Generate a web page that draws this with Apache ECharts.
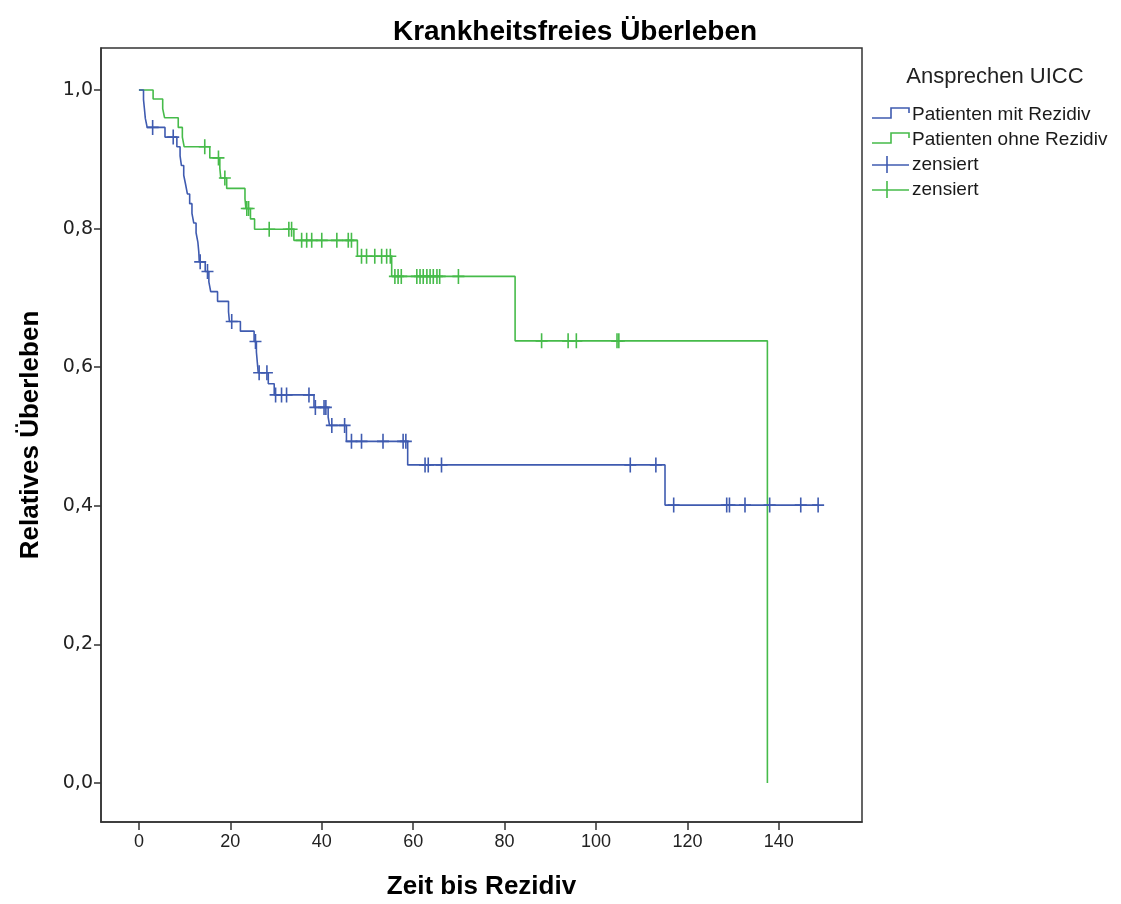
<!DOCTYPE html>
<html>
<head>
<meta charset="utf-8">
<script src="https://cdn.jsdelivr.net/npm/echarts@6/dist/echarts.min.js"></script>
<style>
html,body{margin:0;padding:0;background:#fff;}
#chart{width:1121px;height:904px;}
</style>
</head>
<body>
<div id="chart"></div>
<script>
// ---------- data ----------
const chartTitle = 'Krankheitsfreies Überleben';
const xAxisTitle = 'Zeit bis Rezidiv';
const yAxisTitle = 'Relatives Überleben';
const legendTitle = 'Ansprechen UICC';
const seriesNames = ['Patienten mit Rezidiv', 'Patienten ohne Rezidiv'];
const censorName = 'zensiert';

const xTicks = [0, 20, 40, 60, 80, 100, 120, 140];
const yTicks = [0, 0.2, 0.4, 0.6, 0.8, 1.0];

// Patienten mit Rezidiv (blue): event times and survival after each event
const blueTimes = [0, 1.0, 1.2, 1.4, 1.8, 5.7, 8.3, 9.0, 9.3, 9.8, 10.2, 10.6, 11.1, 11.6, 12.0, 12.5, 12.9, 13.1, 13.2, 14.5, 15.3, 15.7, 17.2, 19.6, 19.8, 22.2, 25.2, 25.7, 25.9, 26.1, 28.3, 29.6, 38.3, 41.4, 41.7, 45.4, 58.8, 115.1, 148.6];
const blueSurv  = [1.0, 0.986, 0.973, 0.959, 0.946, 0.932, 0.918, 0.905, 0.891, 0.877, 0.864, 0.850, 0.836, 0.822, 0.808, 0.794, 0.780, 0.766, 0.752, 0.738, 0.723, 0.709, 0.695, 0.680, 0.666, 0.652, 0.637, 0.622, 0.607, 0.592, 0.576, 0.560, 0.542, 0.528, 0.516, 0.493, 0.459, 0.401, 0.401];
const blueCensor = [3.0, 7.5, 13.4, 15.0, 20.3, 25.5, 26.3, 28.0, 29.9, 31.2, 32.3, 37.2, 38.6, 40.5, 40.9, 42.2, 45.0, 46.5, 48.7, 53.4, 57.8, 58.4, 62.6, 63.3, 66.2, 107.5, 113.1, 117.0, 128.6, 129.2, 132.6, 138.0, 144.8, 148.6];

// Patienten ohne Rezidiv (green)
const greenTimes = [0, 3.1, 5.2, 5.6, 8.6, 9.5, 9.9, 15.5, 17.7, 17.9, 19.2, 23.2, 23.4, 24.4, 25.3, 33.9, 47.8, 55.3, 82.3, 137.5];
const greenSurv  = [1.0, 0.987, 0.973, 0.960, 0.946, 0.932, 0.918, 0.902, 0.887, 0.873, 0.858, 0.843, 0.829, 0.814, 0.799, 0.783, 0.760, 0.731, 0.638, 0.0];
const greenCensor = [14.4, 17.4, 18.8, 23.6, 24.0, 28.5, 32.8, 33.4, 35.6, 36.7, 37.8, 40.0, 43.3, 45.8, 46.5, 48.7, 49.8, 51.6, 53.1, 54.2, 55.0, 56.0, 56.7, 57.4, 60.8, 61.5, 62.2, 63.0, 63.7, 64.4, 65.2, 65.8, 69.9, 88.1, 93.9, 95.7, 104.6, 105.0];

// ---------- helpers ----------
const BLUE = '#3f5bb0';
const GREEN = '#46bb4a';
const FONT = "'Liberation Sans', Arial, sans-serif";
const PLUS = 'path://M5.2,0H6.8V15H5.2Z M0,6.7H12V8.3H0Z';

function survivalAt(times, surv, t) {
  let s = surv[0];
  for (let i = 0; i < times.length; i++) {
    if (times[i] <= t) s = surv[i]; else break;
  }
  return s;
}
const zip = (a, b) => a.map((v, i) => [v, b[i]]);
const censorPts = (c, times, surv) => c.map(t => [t, survivalAt(times, surv, t)]);

const chart = echarts.init(document.getElementById('chart'), null, {renderer: 'canvas'});

const legendX = 872;
const legendRows = [115, 140, 165, 190];
function stepIcon(y, color) {
  return {
    type: 'polyline',
    shape: {points: [[legendX, y + 3], [legendX + 19, y + 3], [legendX + 19, y - 7], [legendX + 37, y - 7], [legendX + 37, y - 2]]},
    style: {stroke: color, lineWidth: 1.6, fill: null}
  };
}
function plusIcon(y, color) {
  return [
    {type: 'line', shape: {x1: legendX, y1: y, x2: legendX + 37, y2: y}, style: {stroke: color, lineWidth: 1.6}},
    {type: 'line', shape: {x1: legendX + 15, y1: y - 9, x2: legendX + 15, y2: y + 8}, style: {stroke: color, lineWidth: 1.6}}
  ];
}
function legendText(y, txt) {
  return {type: 'text', x: legendX + 40, y: y, style: {text: txt, fill: '#1a1a1a', font: '19px ' + FONT, textAlign: 'left', textVerticalAlign: 'middle'}};
}

const option = {
  animation: false,
  backgroundColor: '#fff',
  grid: {left: 101, top: 48, right: 259, bottom: 82, show: true, borderColor: '#333', borderWidth: 1.5,
    containLabel: false, outerBoundsMode: 'none'},
  xAxis: {
    type: 'value', min: -8.3, max: 158.2,
    name: xAxisTitle, nameLocation: 'middle', nameGap: 52,
    nameTextStyle: {fontFamily: FONT, fontSize: 26, fontWeight: 'bold', color: '#000'},
    axisLine: {show: true, onZero: false, lineStyle: {color: '#333', width: 1.5}},
    axisTick: {show: true, length: 8, customValues: xTicks, lineStyle: {color: '#333', width: 1.5}},
    axisLabel: {customValues: xTicks, margin: 11, fontFamily: FONT, fontSize: 18, color: '#222', formatter: v => String(Math.round(v))},
    splitLine: {show: false}
  },
  yAxis: {
    type: 'value', min: -0.0563, max: 1.0606,
    name: yAxisTitle, nameLocation: 'middle', nameGap: 57, nameRotate: 90,
    nameTextStyle: {fontFamily: FONT, fontSize: 26, fontWeight: 'bold', color: '#000'},
    axisLine: {show: true, onZero: false, lineStyle: {color: '#333', width: 1.5}},
    axisTick: {show: true, length: 7, customValues: yTicks, lineStyle: {color: '#333', width: 1.5}},
    axisLabel: {customValues: yTicks, margin: 8, fontFamily: "'DejaVu Sans', sans-serif", fontSize: 19, color: '#222', formatter: v => v.toFixed(1).replace('.', ',')},
    splitLine: {show: false}
  },
  series: [
    {name: seriesNames[0], type: 'line', step: 'end', data: zip(blueTimes, blueSurv), showSymbol: false,
      lineStyle: {color: BLUE, width: 1.6}, itemStyle: {color: BLUE}, z: 3},
    {name: seriesNames[1], type: 'line', step: 'end', data: zip(greenTimes, greenSurv), showSymbol: false,
      lineStyle: {color: GREEN, width: 1.6}, itemStyle: {color: GREEN}, z: 2},
    {name: censorName, type: 'scatter', data: censorPts(blueCensor, blueTimes, blueSurv), symbol: PLUS, symbolSize: [12, 15],
      itemStyle: {color: BLUE, opacity: 1}, z: 4},
    {name: censorName + ' ', type: 'scatter', data: censorPts(greenCensor, greenTimes, greenSurv), symbol: PLUS, symbolSize: [12, 15],
      itemStyle: {color: GREEN, opacity: 1}, z: 4}
  ],
  graphic: [
    {type: 'text', x: 575, y: 32, style: {text: chartTitle, fill: '#000', font: 'bold 28px ' + FONT, textAlign: 'center', textVerticalAlign: 'middle'}},
    {type: 'text', x: 995, y: 77, style: {text: legendTitle, fill: '#222', font: '22px ' + FONT, textAlign: 'center', textVerticalAlign: 'middle'}},
    stepIcon(legendRows[0], BLUE), legendText(legendRows[0], seriesNames[0]),
    stepIcon(legendRows[1], GREEN), legendText(legendRows[1], seriesNames[1]),
    ...plusIcon(legendRows[2], BLUE), legendText(legendRows[2], censorName),
    ...plusIcon(legendRows[3], GREEN), legendText(legendRows[3], censorName)
  ]
};
chart.setOption(option);
</script>
</body>
</html>
